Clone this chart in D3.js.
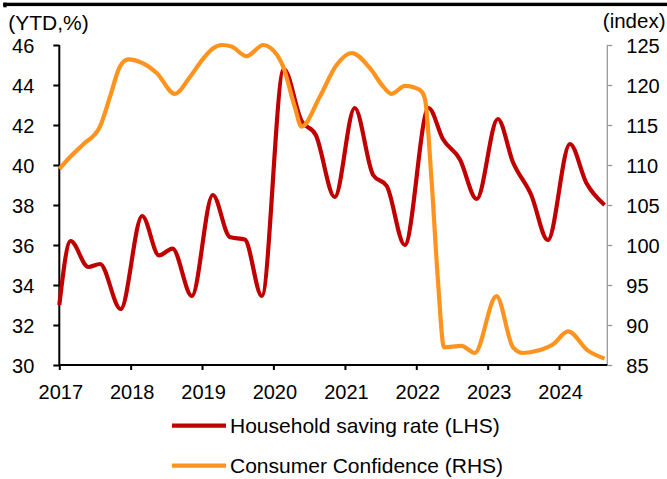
<!DOCTYPE html>
<html>
<head>
<meta charset="utf-8">
<script src="https://cdn.jsdelivr.net/npm/d3@7"></script>
<style>
  html, body { margin: 0; padding: 0; background: #fff; }
  svg { display: block; font-family: "Liberation Sans", Arial, sans-serif; }
</style>
</head>
<body>
<svg id="chart" width="667" height="479"></svg>
<script>
// ---- data ----
const savingDates = ["2017-01-01","2017-02-28","2017-05-29","2017-07-28","2017-11-11",
  "2018-03-01","2018-05-26","2018-08-03","2018-11-10",
  "2019-02-25","2019-05-23","2019-08-08","2019-11-03",
  "2020-02-23","2020-05-24","2020-08-05","2020-11-10",
  "2021-02-20","2021-05-25","2021-08-03","2021-11-03",
  "2022-03-05","2022-05-17","2022-08-11","2022-11-06",
  "2023-02-22","2023-05-10","2023-08-12","2023-11-05",
  "2024-02-26","2024-05-20","2024-08-21"];
const savingRate = [33.0,36.2,34.9,35.05,32.8,
  37.45,35.48,35.82,33.45,
  38.5,36.4,36.27,33.45,
  44.8,42.2,41.5,38.4,
  42.85,39.5,38.95,36.0,
  42.85,41.3,40.3,38.3,
  42.3,40.15,38.5,36.25,
  41.05,39.1,38.0];

const confDates = ["2017-01-01","2017-02-25","2017-05-04","2017-07-28","2017-09-17","2017-11-07","2017-12-20",
  "2018-03-06","2018-05-14","2018-08-15","2018-10-31",
  "2019-01-07","2019-02-27","2019-04-12","2019-06-01","2019-08-17","2019-11-10","2019-12-14",
  "2020-02-20","2020-04-19","2020-05-24","2020-08-25","2020-11-19",
  "2021-02-04","2021-05-09","2021-07-16","2021-08-28","2021-11-04",
  "2022-01-19","2022-02-14","2022-03-20","2022-04-22","2022-05-23","2022-08-20","2022-10-27",
  "2023-02-15","2023-05-11","2023-07-01","2023-09-16","2023-12-02",
  "2024-02-16","2024-05-28","2024-08-21"];
const confidence = [109.5,111.0,112.6,114.8,118.5,122.3,123.2,
  122.7,121.5,118.9,121.0,
  123.3,124.6,125.0,124.8,123.6,125.0,124.7,
  122.3,117.3,114.8,118.5,122.5,
  124.0,122.1,119.8,118.9,119.9,
  119.4,118.3,108.1,95.5,87.2,87.4,86.5,
  93.6,87.2,86.5,86.8,87.6,
  89.2,86.8,85.8];

const yearTicks = ["2017","2018","2019","2020","2021","2022","2023","2024"];
const leftTicks = [30,32,34,36,38,40,42,44,46];
const rightTicks = [85,90,95,100,105,110,115,120,125];
const seriesNames = ["Household saving rate (LHS)", "Consumer Confidence (RHS)"];
const leftUnit = "(YTD,%)";
const rightUnit = "(index)";

// ---- setup ----
const svg = d3.select("#chart");
const parse = d3.timeParse("%Y-%m-%d");
const RED = "#C00000", ORANGE = "#FF931E";
const X0 = 59.3, X1 = 607.3, YT = 45, YB = 365;

const x = d3.scaleTime()
  .domain([parse("2017-01-01"), parse("2024-09-04")])
  .range([X0, X1]);
const yL = d3.scaleLinear().domain([30, 46]).range([YB, YT]);
const yR = d3.scaleLinear().domain([85, 125]).range([YB, YT]);

const saving = savingDates.map((d, i) => ({ date: parse(d), v: savingRate[i] }));
const conf = confDates.map((d, i) => ({ date: parse(d), v: confidence[i] }));

// top rule
svg.append("rect").attr("x", 3.3).attr("y", 2.7).attr("width", 664).attr("height", 3.4).attr("fill", "#000");
svg.append("rect").attr("x", 3.3).attr("y", 2.7).attr("width", 3.3).attr("height", 4.6).attr("fill", "#000");

// axes
const fontSize = 20;
const leftAxis = svg.append("g").attr("transform", `translate(${X0},0)`)
  .call(d3.axisLeft(yL).tickValues(leftTicks).tickSize(6).tickPadding(19).tickFormat(d3.format("d")));
leftAxis.select(".domain").attr("stroke", "#000").attr("stroke-width", 2).attr("d", `M0,${YT}V${YB}`);
leftAxis.selectAll(".tick line").attr("stroke", "#000").attr("stroke-width", 2);
leftAxis.selectAll(".tick text").attr("font-size", fontSize).attr("fill", "#000").attr("dy", "0.36em")
  .attr("font-family", "Liberation Sans, Arial, sans-serif");

const rightAxis = svg.append("g").attr("transform", `translate(${X1},0)`)
  .call(d3.axisRight(yR).tickValues(rightTicks).tickSize(5).tickPadding(14).tickFormat(d3.format("d")));
rightAxis.select(".domain").attr("stroke", "#999").attr("stroke-width", 1.3).attr("d", `M0,${YT}V${YB}`);
rightAxis.selectAll(".tick line").attr("stroke", "#999").attr("stroke-width", 1.3);
rightAxis.selectAll(".tick text").attr("font-size", fontSize).attr("fill", "#000").attr("dy", "0.36em")
  .attr("font-family", "Liberation Sans, Arial, sans-serif");

const bottomAxis = svg.append("g").attr("transform", `translate(0,${YB})`)
  .call(d3.axisBottom(x).tickValues(yearTicks.map(y => parse(y + "-01-01"))).tickSize(5).tickPadding(15)
    .tickFormat(d3.timeFormat("%Y")));
bottomAxis.select(".domain").attr("stroke", "#000").attr("stroke-width", 2).attr("d", `M${X0},0H${X1}`);
bottomAxis.selectAll(".tick line").attr("stroke", "#000").attr("stroke-width", 2);
bottomAxis.selectAll(".tick text").attr("font-size", fontSize).attr("fill", "#000").attr("dx", 1)
  .attr("font-family", "Liberation Sans, Arial, sans-serif");

// unit labels
svg.append("text").attr("x", 8.3).attr("y", 30.3).attr("font-size", 21).attr("fill", "#000").text(leftUnit);
svg.append("text").attr("x", 665.5).attr("y", 27.5).attr("font-size", 20.5).attr("text-anchor", "end").attr("fill", "#000").text(rightUnit);

// lines
const lineL = d3.line().x(d => x(d.date)).y(d => yL(d.v)).curve(d3.curveMonotoneX);
const lineR = d3.line().x(d => x(d.date)).y(d => yR(d.v)).curve(d3.curveMonotoneX);

svg.append("path").datum(saving).attr("d", lineL).attr("fill", "none")
  .attr("stroke", RED).attr("stroke-width", 4.2).attr("stroke-linejoin", "round");
svg.append("path").datum(conf).attr("d", lineR).attr("fill", "none")
  .attr("stroke", ORANGE).attr("stroke-width", 4.2).attr("stroke-linejoin", "round");

// legend
const legend = svg.append("g");
const legendItems = [
  { name: seriesNames[0], color: RED, y: 425.7 },
  { name: seriesNames[1], color: ORANGE, y: 465.7 }
];
legendItems.forEach(it => {
  legend.append("line").attr("x1", 172).attr("x2", 226).attr("y1", it.y).attr("y2", it.y)
    .attr("stroke", it.color).attr("stroke-width", 4.2);
  legend.append("text").attr("x", 230).attr("y", it.y + 7.3).attr("font-size", 21).attr("fill", "#000").text(it.name);
});
</script>
</body>
</html>
